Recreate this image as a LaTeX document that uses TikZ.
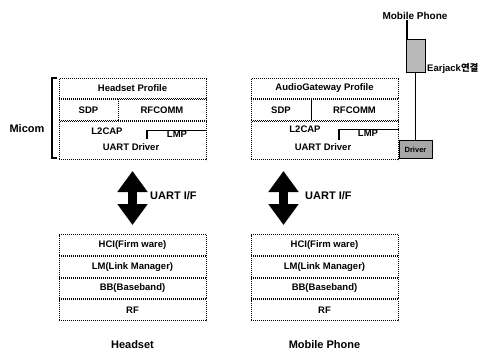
\documentclass[tikz,border=0pt]{standalone}
\usepackage{fontspec}
\setmainfont{Liberation Sans}
\newfontfamily\cjk{Noto Sans CJK KR}
\usepackage{tikz}
\usetikzlibrary{arrows.meta, positioning}

\begin{document}
\begin{tikzpicture}[
    x=1pt, y=-1pt,
    every node/.style={font=\fontsize{9.5}{10}\selectfont\bfseries, inner sep=0pt},
    layer/.style={draw, densely dotted, line width=1pt, minimum width=147pt, minimum height=20.75pt, anchor=north, align=center},
    caption/.style={font=\fontsize{11}{12}\selectfont\bfseries},
    lmpline/.style={line width=1.1pt},
    micom/.style={line width=1.2pt},
    uart/.style={line width=9pt, {Triangle[length=21pt,width=29pt]}-{Triangle[length=21pt,width=29pt]}, shorten <=11pt, shorten >=9pt},
    wire/.style={line width=1.5pt},
    drv/.style={draw, line width=1pt, fill=gray!70, minimum width=33pt, minimum height=18pt, font=\fontsize{7.5}{8}\selectfont\bfseries},
    earjack/.style={draw, line width=1pt, fill=gray!55, minimum width=19pt, minimum height=33pt}
]
\useasboundingbox (0,0) rectangle (488,349);

% headset host side
\node[layer, minimum height=20pt] (hsprof) at (132.5,78) {Headset Profile};
\node[layer, minimum width=59pt, minimum height=21pt, anchor=north west] (hssdp) at (hsprof.south west) {SDP};
\node[layer, minimum width=88pt, minimum height=21pt, anchor=north east] (hsrfc) at (hsprof.south east) {RFCOMM};
\node[layer, minimum height=38pt] (hslow) at (hsprof.south |- hssdp.south) {};
\node (hsl2cap) at (107,131) {L2CAP};
\node (hslmp) at (177,134) {LMP};
\node (hsuartdrv) at (131,147) {UART Driver};
\draw[lmpline] (147,139) |- (hslow.east |- hslmp.north);
\draw[micom] (57,78) -- (52,78) -- (52,158) -- (57,158);
\node[caption] (micomlabel) at (27,129) {Micom};

% mobile phone host side
\node[layer, minimum height=20pt] (mpprof) at (324.5,78) {AudioGateway Profile};
\node[layer, minimum width=60pt, minimum height=21pt, anchor=north west] (mpsdp) at (mpprof.south west) {SDP};
\node[layer, minimum width=87pt, minimum height=21pt, anchor=north east] (mprfc) at (mpprof.south east) {RFCOMM};
\node[layer, minimum height=38pt] (mplow) at (mpprof.south |- mpsdp.south) {};
\node (mpl2cap) at (305,129) {L2CAP};
\node (mplmp) at (368,133) {LMP};
\node (mpuartdrv) at (323,147) {UART Driver};
\draw[lmpline] (339,140) |- (mplow.east |- mplmp.north);

% earjack
\node[drv, anchor=north west] (driver) at (mplow.north east |- 0,140) {Driver};
\node[earjack] (earjack) at (driver.north |- 0,55.5) {};
\node[caption, font=\fontsize{10}{11}\selectfont\bfseries] (mptop) at (415,16) {Mobile Phone};
\node[anchor=base west] (earlabel) at (427,71) {Earjack{\cjk 연결}};
\draw[wire] (driver.north) -- (earjack.south);
\draw[wire] ([xshift=1.5pt]earjack.north west) -- ([xshift=1.5pt]earjack.north west |- mptop.south);

% baseband stacks
\foreach \s/\cx in {hs/132.5, mp/324.5} {
    \node[layer] (\s hci) at (\cx,234) {HCI(Firm ware)};
    \node[layer, below=0pt of \s hci] (\s lm) {LM(Link Manager)};
    \node[layer, below=0pt of \s lm] (\s bb) {BB(Baseband)};
    \node[layer, below=0pt of \s bb] (\s rf) {RF};
}
\node[caption, below=19pt of hsrf] (hsname) {Headset};
\node[caption, below=19pt of mprf] (mpname) {Mobile Phone};

% uart links
\draw[uart] (hslow.south) -- (hshci.north);
\draw[uart] ([xshift=-41pt]mplow.south) -- ([xshift=-41pt]mphci.north);
\node[caption, anchor=west] (hsuart) at (150,196) {UART I/F};
\node[caption, anchor=west] (mpuart) at (305,196) {UART I/F};
\end{tikzpicture}
\end{document}
